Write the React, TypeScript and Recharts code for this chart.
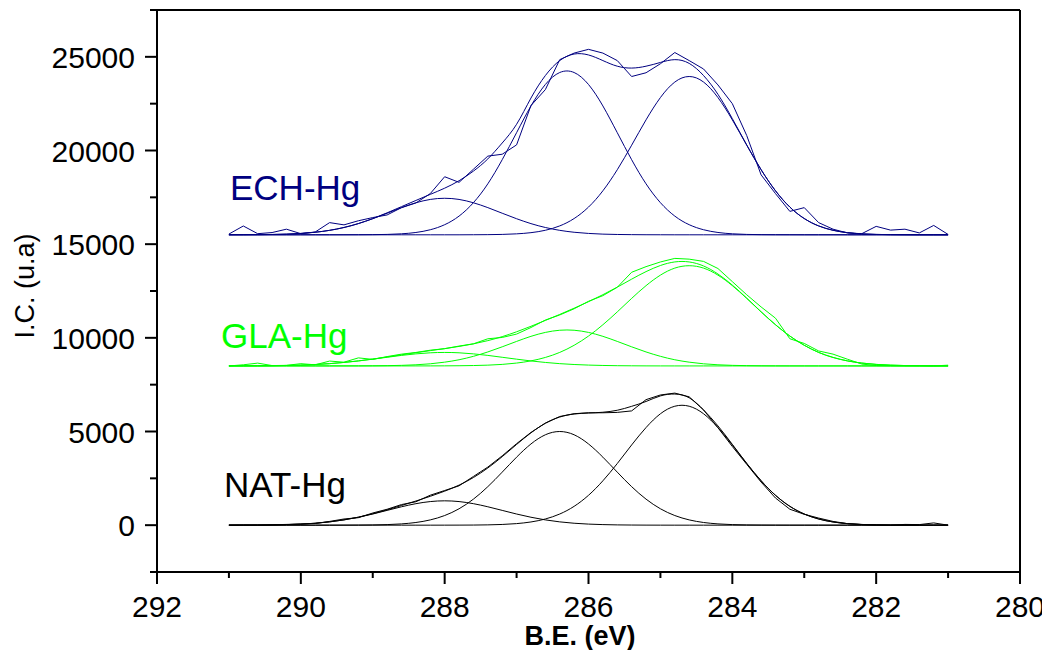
import { LineChart, Line, XAxis, YAxis, ReferenceLine } from "recharts"

// binding energy grid (eV), read every 0.2 eV
const bindingEnergy = [291, 290.8, 290.6, 290.4, 290.2, 290, 289.8, 289.6, 289.4, 289.2, 289, 288.8, 288.6, 288.4, 288.2, 288, 287.8, 287.6, 287.4, 287.2, 287, 286.8, 286.6, 286.4, 286.2, 286, 285.8, 285.6, 285.4, 285.2, 285, 284.8, 284.6, 284.4, 284.2, 284, 283.8, 283.6, 283.4, 283.2, 283, 282.8, 282.6, 282.4, 282.2, 282, 281.8, 281.6, 281.4, 281.2, 281]

// ECH-Hg
const echRaw = [15540, 15970, 15560, 15620, 15800, 15560, 15650, 16150, 16030, 16250, 16420, 16560, 16950, 17200, 17700, 18600, 18300, 19000, 19700, 19800, 20300, 22400, 23250, 24850, 25200, 25400, 25200, 24800, 23950, 24150, 24630, 25230, 24800, 24350, 23500, 22500, 20800, 18700, 17700, 16750, 16950, 16150, 15800, 15600, 15560, 15950, 15750, 15800, 15600, 16000, 15520]
const echFit = [15501, 15503, 15508, 15517, 15536, 15573, 15636, 15738, 15891, 16100, 16366, 16673, 17004, 17334, 17658, 17989, 18386, 18900, 19550, 20400, 21400, 22800, 24000, 24800, 25150, 25100, 24800, 24500, 24400, 24500, 24700, 24850, 24650, 24000, 23000, 21700, 20300, 18981, 17852, 16980, 16368, 15974, 15742, 15614, 15551, 15521, 15508, 15503, 15500, 15500, 15500]
const echPeak1 = [15501, 15503, 15508, 15517, 15536, 15573, 15636, 15738, 15890, 16097, 16358, 16652, 16951, 17210, 17388, 17450, 17388, 17210, 16951, 16652, 16358, 16097, 15890, 15738, 15636, 15573, 15536, 15517, 15508, 15503, 15501, 15500, 15500, 15500, 15500, 15500, 15500, 15500, 15500, 15500, 15500, 15500, 15500, 15500, 15500, 15500, 15500, 15500, 15500, 15500, 15500]
const echPeak2 = [15500, 15500, 15500, 15500, 15500, 15500, 15500, 15500, 15501, 15503, 15508, 15521, 15553, 15624, 15770, 16039, 16498, 17215, 18221, 19508, 20951, 22378, 23524, 24163, 24163, 23524, 22378, 20951, 19508, 18221, 17215, 16498, 16039, 15770, 15624, 15553, 15521, 15508, 15503, 15501, 15500, 15500, 15500, 15500, 15500, 15500, 15500, 15500, 15500, 15500, 15500]
const echPeak3 = [15500, 15500, 15500, 15500, 15500, 15500, 15500, 15500, 15500, 15500, 15500, 15500, 15500, 15500, 15500, 15500, 15500, 15503, 15508, 15521, 15551, 15614, 15742, 15974, 16368, 16979, 17849, 18973, 20283, 21635, 22826, 23654, 23950, 23654, 22826, 21635, 20283, 18973, 17849, 16979, 16368, 15974, 15742, 15614, 15551, 15521, 15508, 15503, 15500, 15500, 15500]

// GLA-Hg
const glaRaw = [8500, 8560, 8650, 8520, 8530, 8620, 8560, 8760, 8700, 8930, 8850, 9000, 9130, 9220, 9340, 9420, 9560, 9680, 9950, 10020, 10200, 10550, 10950, 11220, 11550, 11950, 12250, 12700, 13500, 13800, 14050, 14240, 14200, 14080, 13700, 13000, 12300, 11650, 11050, 9950, 9700, 9300, 9130, 8860, 8600, 8520, 8510, 8500, 8510, 8500, 8540]
const glaFit = [8501, 8503, 8507, 8513, 8525, 8545, 8576, 8622, 8687, 8769, 8868, 8977, 9093, 9206, 9317, 9425, 9541, 9678, 9851, 10064, 10323, 10616, 10928, 11249, 11583, 11928, 12304, 12706, 13133, 13535, 13861, 14052, 14051, 13836, 13408, 12816, 12121, 11391, 10702, 10095, 9602, 9222, 8953, 8770, 8653, 8582, 8542, 8521, 8510, 8504, 8502]
const glaPeak1 = [8501, 8503, 8507, 8513, 8525, 8545, 8576, 8622, 8686, 8766, 8861, 8962, 9062, 9144, 9201, 9220, 9201, 9144, 9062, 8962, 8861, 8766, 8686, 8622, 8576, 8545, 8525, 8513, 8507, 8503, 8501, 8500, 8500, 8500, 8500, 8500, 8500, 8500, 8500, 8500, 8500, 8500, 8500, 8500, 8500, 8500, 8500, 8500, 8500, 8500, 8500]
const glaPeak2 = [8500, 8500, 8500, 8500, 8500, 8500, 8500, 8500, 8501, 8503, 8507, 8515, 8531, 8561, 8614, 8701, 8830, 9013, 9247, 9520, 9809, 10080, 10289, 10405, 10405, 10289, 10080, 9809, 9520, 9247, 9013, 8830, 8701, 8614, 8561, 8531, 8515, 8507, 8503, 8501, 8500, 8500, 8500, 8500, 8500, 8500, 8500, 8500, 8500, 8500, 8500]
const glaPeak3 = [8500, 8500, 8500, 8500, 8500, 8500, 8500, 8500, 8500, 8500, 8500, 8500, 8500, 8501, 8502, 8504, 8510, 8521, 8542, 8582, 8653, 8770, 8953, 9222, 9602, 10094, 10699, 11384, 12106, 12785, 13347, 13722, 13850, 13722, 13347, 12785, 12106, 11384, 10699, 10094, 9602, 9222, 8953, 8770, 8653, 8582, 8542, 8521, 8510, 8504, 8502]

// NAT-Hg
const natRaw = [0, 10, 5, 20, 40, 60, 90, 200, 330, 400, 650, 850, 1100, 1250, 1600, 1850, 2100, 2600, 3100, 3700, 4350, 4950, 5450, 5800, 5950, 6000, 6000, 6020, 6100, 6700, 6950, 7050, 6850, 6150, 5200, 4200, 3250, 2300, 1450, 850, 580, 380, 200, 80, 30, 10, 0, 40, 30, 120, 0]
const natFit = [1, 3, 7, 14, 30, 57, 103, 176, 283, 428, 608, 819, 1050, 1290, 1541, 1815, 2138, 2543, 3053, 3657, 4308, 4929, 5436, 5771, 5933, 5986, 6028, 6134, 6344, 6603, 6900, 7000, 6800, 6150, 5300, 4312, 3303, 2373, 1596, 1005, 595, 330, 171, 83, 38, 16, 6, 3, 1, 0, 0]
const natPeak1 = [1, 3, 7, 14, 30, 57, 103, 176, 281, 423, 595, 789, 982, 1147, 1260, 1300, 1260, 1147, 982, 789, 595, 423, 281, 176, 103, 57, 30, 14, 7, 3, 1, 0, 0, 0, 0, 0, 0, 0, 0, 0, 0, 0, 0, 0, 0, 0, 0, 0, 0, 0, 0]
const natPeak2 = [0, 0, 0, 0, 0, 0, 0, 0, 2, 5, 13, 30, 68, 143, 281, 514, 875, 1390, 2055, 2830, 3630, 4335, 4825, 5000, 4825, 4335, 3630, 2830, 2055, 1390, 875, 514, 281, 143, 68, 30, 13, 5, 2, 0, 0, 0, 0, 0, 0, 0, 0, 0, 0, 0, 0]
const natPeak3 = [0, 0, 0, 0, 0, 0, 0, 0, 0, 0, 0, 0, 0, 0, 0, 1, 3, 6, 16, 38, 83, 171, 330, 595, 1005, 1594, 2368, 3290, 4282, 5210, 5946, 6349, 6349, 5946, 5210, 4282, 3290, 2368, 1594, 1005, 595, 330, 171, 83, 38, 16, 6, 3, 1, 0, 0]

const xTicks = [292, 291, 290, 289, 288, 287, 286, 285, 284, 283, 282, 281, 280]
const yTicks = [-2500, 0, 2500, 5000, 7500, 10000, 12500, 15000, 17500, 20000, 22500, 25000, 27500]

const rows = bindingEnergy.map((x, i) => ({
  x,
  echRaw: echRaw[i], echFit: echFit[i], echPeak1: echPeak1[i], echPeak2: echPeak2[i], echPeak3: echPeak3[i],
  glaRaw: glaRaw[i], glaFit: glaFit[i], glaPeak1: glaPeak1[i], glaPeak2: glaPeak2[i], glaPeak3: glaPeak3[i],
  natRaw: natRaw[i], natFit: natFit[i], natPeak1: natPeak1[i], natPeak2: natPeak2[i], natPeak3: natPeak3[i],
}))

const series = [
  { group: "nat", color: "#000000" },
  { group: "gla", color: "#00ff00" },
  { group: "ech", color: "#000080" },
]

const font = "'Liberation Sans', Arial, Helvetica, sans-serif"

function XTick(props: any) {
  const { x, y, payload } = props
  const major = payload.value % 2 === 0
  return (
    <g>
      <line x1={x} x2={x} y1={y} y2={y + (major ? 12 : 6)} stroke="#000" strokeWidth={2} />
      {major && (
        <text x={x} y={y + 45} textAnchor="middle" fontSize={30} fontFamily={font} fill="#000">
          {payload.value}
        </text>
      )}
    </g>
  )
}

function YTick(props: any) {
  const { x, y, payload } = props
  const major = payload.value % 5000 === 0
  return (
    <g>
      <line x1={x} x2={x - (major ? 12 : 7)} y1={y} y2={y} stroke="#000" strokeWidth={2} />
      {major && (
        <text x={x - 22} y={y + 11} textAnchor="end" fontSize={30} fontFamily={font} fill="#000">
          {payload.value}
        </text>
      )}
    </g>
  )
}

export default function App() {
  return (
    <div style={{ position: "relative", width: 1042, height: 642 }}>
      <LineChart width={1042} height={642} data={rows} margin={{ top: 2, right: 30, left: 0, bottom: 0 }}>
        <XAxis
          dataKey="x"
          type="number"
          domain={[280, 292]}
          reversed
          allowDataOverflow
          ticks={xTicks}
          interval={0}
          tick={(p: any) => <XTick {...p} />}
          tickLine={false}
          tickSize={0}
          tickMargin={0}
          height={78}
          axisLine={{ stroke: "#000", strokeWidth: 2 }}
        />
        <YAxis
          type="number"
          domain={[-2500, 27500]}
          allowDataOverflow
          ticks={yTicks}
          interval={0}
          tick={(p: any) => <YTick {...p} />}
          tickLine={false}
          tickSize={0}
          tickMargin={0}
          width={149}
          axisLine={{ stroke: "#000", strokeWidth: 2 }}
        />
        <ReferenceLine y={27500} stroke="#000" strokeWidth={2} />
        <ReferenceLine x={280} stroke="#000" strokeWidth={2} />
        {series.flatMap((s) => [
          <Line key={s.group + "Peak1"} dataKey={s.group + "Peak1"} type="natural" stroke={s.color} strokeWidth={1} dot={false} isAnimationActive={false} />,
          <Line key={s.group + "Peak2"} dataKey={s.group + "Peak2"} type="natural" stroke={s.color} strokeWidth={1} dot={false} isAnimationActive={false} />,
          <Line key={s.group + "Peak3"} dataKey={s.group + "Peak3"} type="natural" stroke={s.color} strokeWidth={1} dot={false} isAnimationActive={false} />,
          <Line key={s.group + "Fit"} dataKey={s.group + "Fit"} type="natural" stroke={s.color} strokeWidth={1} dot={false} isAnimationActive={false} />,
          <Line key={s.group + "Raw"} dataKey={s.group + "Raw"} type="linear" stroke={s.color} strokeWidth={1} dot={false} isAnimationActive={false} />,
        ])}
      </LineChart>
      <svg width={1042} height={642} style={{ position: "absolute", left: 0, top: 0, pointerEvents: "none" }}>
        <text x={222} y={192} fontSize={35} fontFamily={font} fill="#000080">ECH-Hg</text>
        <text x={213} y={340} fontSize={35} fontFamily={font} fill="#00ff00">GLA-Hg</text>
        <text x={216} y={489} fontSize={35} fontFamily={font} fill="#000000">NAT-Hg</text>
        <text x={572} y={637} textAnchor="middle" fontSize={27} fontWeight="bold" fontFamily={font} fill="#000">B.E. (eV)</text>
        <text transform="translate(26,278) rotate(-90)" textAnchor="middle" fontSize={27} fontFamily={font} fill="#000">I.C. (u.a)</text>
      </svg>
    </div>
  )
}
